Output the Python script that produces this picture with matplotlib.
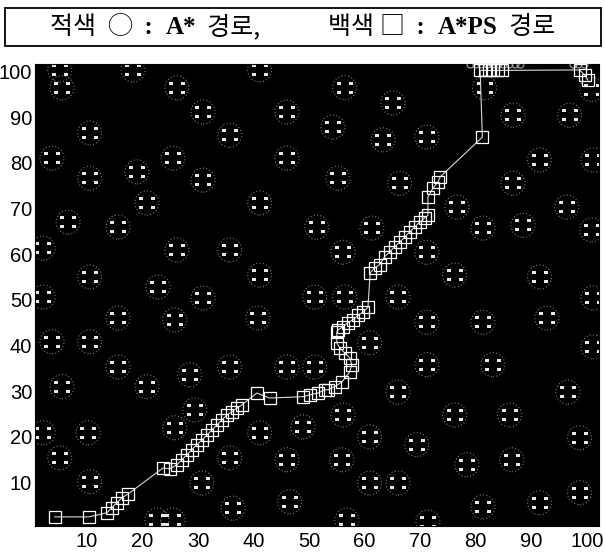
import matplotlib.pyplot as plt
import numpy as np
from matplotlib.path import Path
from matplotlib.patches import Rectangle
from matplotlib.offsetbox import TextArea, HPacker, AnchoredOffsetbox

# obstacle centres, grid units
obs_x = [5.1, 5.5, 18.3, 26.2, 41.1, 30.9, 46.0, 10.5, 35.7, 3.7,
         25.5, 46.0, 10.5, 19.0, 30.9, 20.8, 41.1, 6.6, 15.6, 2.1,
         26.2, 35.7, 10.5, 41.1, 22.8, 2.1, 30.9, 15.6, 25.8, 40.8,
         3.7, 10.5, 15.6, 28.5, 35.7, 46.0, 5.5, 20.8,
         56.4, 65.1, 54.3, 63.3, 71.2, 81.6, 86.7, 96.9, 100.9,
         55.2, 66.3, 91.5, 101.1, 86.7, 76.6, 96.4, 51.4, 61.3,
         81.3, 88.5, 100.9, 56.1, 71.2, 76.2, 91.5, 51.0, 56.4, 66.0,
         101.1, 71.2, 81.3, 92.8, 60.9, 101.1, 71.2, 83.1, 51.0, 66.0, 96.6,
         56.1, 76.2, 86.1, 60.9, 69.4, 98.7, 55.9, 78.4, 86.5, 60.9,
         66.0, 81.3, 91.5, 98.7, 56.8, 71.4,
         2.1, 10.2, 5.1, 10.5, 29.4, 25.8, 41.1, 48.9, 35.7, 46.0,
         30.7, 36.3, 46.5, 22.6, 25.5]
obs_y = [100.3, 96.4, 100.3, 96.4, 100.3, 91.1, 91.1, 86.5, 86.0, 81.0,
         81.0, 81.0, 76.6, 78.0, 76.2, 71.2, 71.2, 67.0, 65.9, 61.3,
         60.9, 60.9, 55.0, 55.4, 52.8, 50.6, 50.4, 46.0, 45.6, 46.0,
         40.8, 40.8, 35.3, 33.6, 35.3, 35.3, 31.0, 31.0,
         96.4, 93.1, 87.8, 85.0, 85.6, 96.4, 90.4, 90.4, 96.0,
         76.6, 75.5, 80.6, 80.6, 75.5, 70.3, 70.3, 65.9, 65.7,
         65.7, 66.3, 65.3, 60.4, 60.4, 55.4, 55.0, 50.6, 50.6, 50.6,
         50.4, 45.1, 45.1, 46.0, 40.6, 39.7, 35.8, 35.8, 35.3, 29.8, 29.8,
         24.8, 24.8, 24.8, 20.0, 18.3, 19.8, 15.0, 13.9, 15.0, 9.9,
         9.9, 4.7, 5.6, 7.8, 1.8, 1.4,
         20.9, 20.9, 15.4, 10.2, 25.9, 22.0, 20.9, 22.2, 15.4, 15.0,
         9.9, 4.4, 5.8, 1.8, 1.8]

# A*PS path (white squares)
ps_x = [4.2, 10.4, 13.6, 14.5, 15.4, 16.3, 17.4,
        23.7, 24.9, 26.2, 27.1, 28.0, 28.9, 29.8, 30.7, 31.6, 32.5,
        33.4, 34.3, 35.2, 36.1, 37.0, 37.9, 40.6, 42.9,
        48.9, 50.1, 51.6, 52.8, 53.4, 54.6, 55.9, 57.3, 57.7, 57.3,
        56.4, 55.5, 55.0, 55.0, 55.2, 56.1, 57.0, 57.9, 58.8, 59.7, 60.6,
        61.0, 61.8, 62.7, 63.6, 64.5, 65.4, 66.3, 67.2, 68.1, 69.0,
        69.9, 70.8, 71.4, 71.4, 72.3, 73.2, 73.6,
        81.2, 80.8, 81.6, 82.4, 83.2, 84.0, 84.8,
        98.7, 99.6, 100.2]
ps_y = [2.5, 2.5, 3.4, 4.5, 5.6, 6.7, 7.5,
        13.2, 13.0, 13.9, 15.0, 16.1, 17.2, 18.3, 19.3, 20.4, 21.5,
        22.6, 23.7, 24.8, 25.5, 26.3, 27.0, 29.6, 28.5,
        28.8, 29.2, 29.6, 30.3, 30.3, 31.0, 32.0, 34.2, 35.8, 37.3,
        38.4, 39.5, 40.6, 43.0, 43.4, 44.1, 45.0, 45.6, 46.6, 47.3, 48.4,
        55.9, 57.0, 57.7, 59.4, 60.5, 61.6, 62.6, 63.7, 64.8, 65.9,
        67.0, 67.9, 68.5, 72.5, 74.4, 75.8, 76.9,
        85.6, 100.2, 100.2, 100.2, 100.2, 100.2, 100.2,
        100.3, 99.2, 98.1]

# A* path, only visible along the top edge
as_x = [79.0, 80.0, 81.0, 82.0, 83.0, 84.0, 85.0, 86.0, 87.0, 88.0, 97.5, 98.5, 99.5]
as_y = [101.5] * len(as_x)

x_ticks = [10, 20, 30, 40, 50, 60, 70, 80, 90, 100]
y_ticks = [10, 20, 30, 40, 50, 60, 70, 80, 90, 100]

# title pieces: (text, latin?)
title_parts = [('적색  ', False), ('◯', False), ('  :  ', True), ('A*', True),
               ('  경로,', False), ('            ', False), ('백색 ', False), ('□', False),
               ('  :  ', True), ('A*PS', True), ('  경로', False)]


def four_dots():
    # 2x2 block of little squares, the look of one obstacle
    verts, codes = [], []
    for cx, cy in [(-6, -4.5), (6, -4.5), (-6, 4.5), (6, 4.5)]:
        verts += [(cx - 1.6, cy - 1.6), (cx + 1.6, cy - 1.6),
                  (cx + 1.6, cy + 1.6), (cx - 1.6, cy + 1.6), (cx - 1.6, cy - 1.6)]
        codes += [Path.MOVETO, Path.LINETO, Path.LINETO, Path.LINETO, Path.CLOSEPOLY]
    return Path(verts, codes)


fig = plt.figure(figsize=(6.05, 5.58), dpi=100)
ax = fig.add_axes([35 / 605, 32 / 558, 564 / 605, 462 / 558])
ax.set_facecolor('black')

ax.scatter(obs_x, obs_y, marker='o', s=300, facecolors='none',
           edgecolors='#7a7a7a', linewidths=0.8, linestyles=(0, (1, 2)), zorder=1)
ax.scatter(obs_x, obs_y, marker=four_dots(), s=120, c='#e8e8e8', linewidths=0, zorder=2)

ax.plot(as_x, as_y, linestyle='none', marker='o', ms=5, mfc='none',
        mec='#a8a8a8', mew=0.8, zorder=3)
ax.plot(ps_x, ps_y, color='#d8d8d8', lw=0.8, marker='s', ms=8.5,
        mfc='none', mec='white', mew=0.9, zorder=4)

ax.set_xlim(0.65, 102.2)
ax.set_ylim(0.5, 101.6)
ax.set_xticks(x_ticks)
ax.set_yticks(y_ticks)
ax.tick_params(length=0, labelsize=14.5, pad=4)
for lab in ax.get_xticklabels() + ax.get_yticklabels():
    lab.set_family('Liberation Sans')
ax.tick_params(axis='y', pad=2)
for s in ax.spines.values():
    s.set_color('black')

# boxed title
fig.add_artist(Rectangle((5 / 605, 1 - 46 / 558), 596 / 605, 38 / 558,
                         transform=fig.transFigure, fill=False, lw=1.3, ec='black'))
areas = []
for txt, latin in title_parts:
    if latin:
        props = dict(fontsize=18, family='Liberation Serif', weight='bold')
    else:
        props = dict(fontsize=18, family=['Noto Sans CJK KR', 'DejaVu Sans'])
    areas.append(TextArea(txt, textprops=props))
row = HPacker(children=areas, pad=0, sep=0, align='baseline')
fig.add_artist(AnchoredOffsetbox(loc='center', child=row, pad=0, borderpad=0,
                                 frameon=False, bbox_to_anchor=(0.5, 1 - 27 / 558),
                                 bbox_transform=fig.transFigure))

fig.savefig('out.png', dpi=100, facecolor='white')
